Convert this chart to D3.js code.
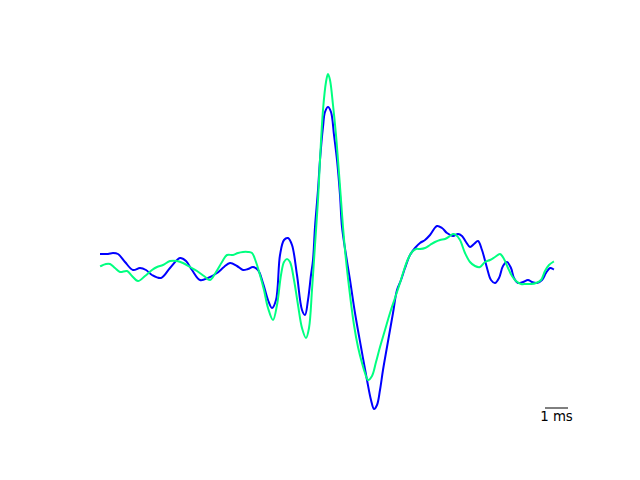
<!DOCTYPE html>
<html>
<head>
<meta charset="utf-8">
<script src="https://cdn.jsdelivr.net/npm/d3@7"></script>
<style>
  html, body { margin: 0; padding: 0; background: #ffffff; }
  svg { display: block; }
</style>
</head>
<body>
<div id="chart"></div>
<script>
// Sampling: 23 samples per millisecond
const samplesPerMs = 23;

// Blue waveform: sample index and amplitude (a.u.)
const blueT = [0,7,12,17,24,32,39,45,51,60,69,79,85,91,99,107,116,123,129,136,142,147,152,157,162,167,171,175,179,183,187,191,196,201,204,207,210,212,214,217,219,222,224,227,230,233,236,239,241,245,249,254,260,266,270,273,276,279,282,286,292,296,300,304,309,314,319,324,329,336,341,346,352,357,361,365,369,373,377,381,386,390,394,398,402,406,410,413,417,422,427,431,436,441,445,449,452];
const blueV = [8,8,9,8,0,-8,-6,-8,-13,-16,-6,4,1,-8,-18,-16,-11,-5,-1,-4,-8,-7,-5,-8,-21,-38,-46,-38,7,22,24,17,-13,-48,-53,-38,-13,2,35,72,102,135,150,155,150,127,102,67,35,7,-18,-51,-85,-118,-138,-147,-143,-128,-108,-85,-51,-28,-18,-6,7,14,19,22,27,36,34,29,26,28,26,20,15,18,21,12,-6,-18,-21,-16,-4,0,-6,-16,-21,-20,-18,-20,-21,-18,-11,-6,-7];

// Green waveform
const greenT = [0,5,9,14,19,26,31,37,44,51,56,62,69,76,82,89,96,103,109,115,121,126,132,137,142,147,151,155,159,163,167,172,176,180,183,186,189,193,197,201,205,208,211,214,217,219,222,225,227,229,232,235,237,240,242,245,249,253,257,261,264,267,271,275,279,284,289,294,299,303,307,311,315,319,324,329,334,339,344,349,352,355,359,364,369,374,379,384,389,394,399,403,407,411,415,420,425,430,435,440,444,448,452];
const greenV = [-4,-2,-2,-6,-10,-9,-14,-19,-14,-8,-5,-3,1,1,-1,-5,-9,-14,-18,-10,0,7,7,9,10,10,9,0,-13,-28,-46,-58,-43,-13,0,3,0,-18,-43,-66,-76,-66,-28,17,62,102,152,180,188,182,157,127,102,62,35,2,-33,-63,-85,-101,-111,-118,-114,-100,-85,-68,-51,-36,-21,-8,3,10,13,13,14,17,20,22,23,26,28,27,22,9,0,-4,-5,0,2,5,8,3,-6,-14,-19,-22,-22,-22,-21,-18,-9,-3,0];

const scaleBarLabel = "1 ms";
const scaleBarStart = 444; // sample
const scaleBarLevel = -146; // amplitude level of scale bar

const width = 640, height = 480;
const svg = d3.select("#chart").append("svg")
  .attr("width", width).attr("height", height);

const x = d3.scaleLinear().domain([0, 452]).range([101, 553]);
const y = d3.scaleLinear().domain([-148, 188]).range([410, 74]);

const line = d3.line()
  .x(d => x(d[0]))
  .y(d => y(d[1]))
  .curve(d3.curveCatmullRom.alpha(0.5));

const blue = blueT.map((t, i) => [t, blueV[i]]);
const green = greenT.map((t, i) => [t, greenV[i]]);

svg.append("path").datum(blue)
  .attr("d", line)
  .attr("fill", "none")
  .attr("stroke", "#0000ff")
  .attr("stroke-width", 2)
  .attr("stroke-linejoin", "round")
  .attr("stroke-linecap", "square");

svg.append("path").datum(green)
  .attr("d", line)
  .attr("fill", "none")
  .attr("stroke", "#00ff80")
  .attr("stroke-width", 2)
  .attr("stroke-linejoin", "round")
  .attr("stroke-linecap", "square");

// Scale bar
const x0 = x(scaleBarStart), x1 = x(scaleBarStart + samplesPerMs);
const yb = y(scaleBarLevel);
svg.append("line")
  .attr("x1", x0).attr("x2", x1)
  .attr("y1", yb).attr("y2", yb)
  .attr("stroke", "#000").attr("stroke-width", 1);
svg.append("text")
  .attr("x", (x0 + x1) / 2)
  .attr("y", yb + 13)
  .attr("text-anchor", "middle")
  .attr("font-family", "DejaVu Sans, sans-serif")
  .attr("font-size", "13.33px")
  .attr("fill", "#000")
  .text(scaleBarLabel);
</script>
</body>
</html>
